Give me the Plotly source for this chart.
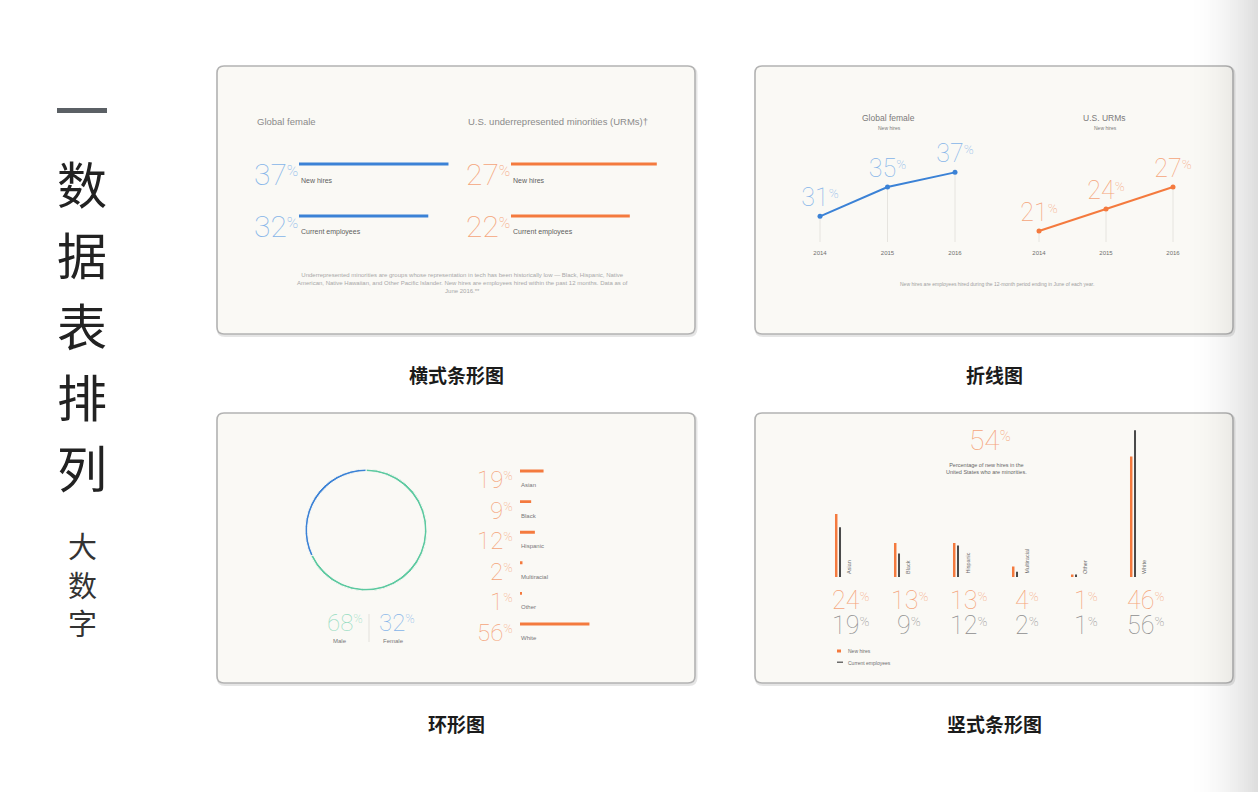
import plotly.graph_objects as go

W, H = 1258, 792

# ---------------- data ----------------
bar_labels = ["New hires", "Current employees"]
female_share = [37, 32]
urm_share = [27, 22]

years = [2014, 2015, 2016]
female_trend = [31, 35, 37]
urm_trend = [21, 24, 27]

gender_labels = ["Male", "Female"]
gender_share = [68, 32]

ethnicity = ["Asian", "Black", "Hispanic", "Multiracial", "Other", "White"]
employee_share = [19, 9, 12, 2, 1, 56]

new_hire_share = [24, 13, 13, 4, 1, 46]
current_share = [19, 9, 12, 2, 1, 56]
minority_new_hires = 54

panel_titles = ["横式条形图", "折线图", "环形图", "竖式条形图"]
side_title = ["数", "据", "表", "排", "列"]
side_sub = ["大", "数", "字"]

# ---------------- styles ----------------
BLUE, BLUE_L = "#3b82d6", "#86b5e9"
ORANGE, ORANGE_L = "#f47a3e", "#f5a57b"
GREEN, GREEN_L = "#5cc9a0", "#95dcc1"
DARK = "#4a4a4a"
GRAYNUM = "#8e8e8e"
TXT = "#5e5e5e"
PANEL_BG = "#faf9f5"
BORDER = "#b3b3b3"
SANS = "Liberation Sans, Arial, sans-serif"
THIN = "Roboto"
CJK = "Noto Sans CJK SC"


def X(px):
    return px / W


def Y(py):
    return 1 - py / H


def pct(v, size):
    return f"{v}<span style=\"font-size:{size * 0.75:.0f}px\"><sup>%</sup></span>"


fig = go.Figure()
annotations = []
shapes = []


def rounded_path(x0, y0, x1, y1, r):
    pts = [
        ("M", [(x0 + r, y0)]), ("L", [(x1 - r, y0)]), ("Q", [(x1, y0), (x1, y0 + r)]),
        ("L", [(x1, y1 - r)]), ("Q", [(x1, y1), (x1 - r, y1)]), ("L", [(x0 + r, y1)]),
        ("Q", [(x0, y1), (x0, y1 - r)]), ("L", [(x0, y0 + r)]), ("Q", [(x0, y0), (x0 + r, y0)]),
    ]
    s = ""
    for cmd, ps in pts:
        s += cmd + " " + " ".join(f"{X(a):.5f},{Y(b):.5f}" for a, b in ps) + " "
    return s + "Z"


# panels
panels = [(217, 66, 695, 334), (755, 66, 1233, 334), (217, 413, 695, 683), (755, 413, 1233, 683)]
for (x0, y0, x1, y1) in panels:
    shapes.append(dict(type="path", xref="paper", yref="paper", path=rounded_path(x0 + 1, y0 + 1.5, x1 + 1, y1 + 1.5, 7),
                       line=dict(color="rgba(0,0,0,0.10)", width=3), fillcolor="rgba(0,0,0,0)", layer="below"))
    shapes.append(dict(type="path", xref="paper", yref="paper", path=rounded_path(x0, y0, x1, y1, 7),
                       line=dict(color=BORDER, width=1.6), fillcolor=PANEL_BG, layer="below"))

# panel captions
for (x0, y0, x1, y1), t in zip(panels, panel_titles):
    annotations.append(dict(text=t, xref="paper", yref="paper", x=X((x0 + x1) / 2), y=Y(y1 + 40),
                            showarrow=False, xanchor="center", yanchor="middle",
                            font=dict(family=CJK, size=19, color="#1b1b1b", weight="bold")))

# side title
shapes.append(dict(type="rect", xref="paper", yref="paper", x0=X(57), x1=X(107), y0=Y(113), y1=Y(108),
                   fillcolor="#5b6065", line=dict(width=0)))
for i, ch in enumerate(side_title):
    annotations.append(dict(text=ch, xref="paper", yref="paper", x=X(82), y=Y(182 + 71 * i), showarrow=False,
                            xanchor="center", yanchor="middle", font=dict(family=CJK, size=50, color="#222222")))
for i, ch in enumerate(side_sub):
    annotations.append(dict(text=ch, xref="paper", yref="paper", x=X(82), y=Y(545 + 38.5 * i), showarrow=False,
                            xanchor="center", yanchor="middle", font=dict(family=CJK, size=29, color="#333333")))

# ---------------- panel 1: horizontal bars ----------------
fig.add_trace(go.Bar(x=female_share, y=bar_labels, orientation="h", marker=dict(color=BLUE, line=dict(width=0)),
                     width=0.058, xaxis="x", yaxis="y", hoverinfo="skip"))
fig.add_trace(go.Bar(x=urm_share, y=bar_labels, orientation="h", marker=dict(color=ORANGE, line=dict(width=0)),
                     width=0.058, xaxis="x2", yaxis="y2", hoverinfo="skip"))
for ax, vals, col in [("", female_share, BLUE_L), ("2", urm_share, ORANGE_L)]:
    for lab, v in zip(bar_labels, vals):
        annotations.append(dict(text=pct(v, 30), xref="x" + ax, yref="y" + ax, x=0, y=lab, showarrow=False,
                                xanchor="right", yanchor="middle", yshift=-10, xshift=1,
                                font=dict(family=THIN, size=30, color=col, weight=100)))
        annotations.append(dict(text=lab, xref="x" + ax, yref="y" + ax, x=0, y=lab, showarrow=False,
                                xanchor="left", yanchor="middle", yshift=-16,
                                font=dict(family=SANS, size=7, color=TXT)))
annotations.append(dict(text="Global female", xref="paper", yref="paper", x=X(255), y=Y(121), showarrow=False,
                        xanchor="left", yanchor="middle", font=dict(family=SANS, size=9.5, color="#8a8a8a")))
annotations.append(dict(text="U.S. underrepresented minorities (URMs)†", xref="paper", yref="paper", x=X(466),
                        y=Y(121), showarrow=False, xanchor="left", yanchor="middle",
                        font=dict(family=SANS, size=9.5, color="#8a8a8a")))
annotations.append(dict(
    text="Underrepresented minorities are groups whose representation in tech has been historically low — Black, Hispanic, Native<br>"
         "American, Native Hawaiian, and Other Pacific Islander. New hires are employees hired within the past 12 months. Data as of<br>"
         "June 2016.**",
    xref="paper", yref="paper", x=X(462), y=Y(283), showarrow=False, xanchor="center", yanchor="middle",
    align="center", font=dict(family=SANS, size=6, color="#a8a8a8")))

# ---------------- panel 2: line charts ----------------
for ax, vals, col, colL, rng in [("3", female_trend, BLUE, BLUE_L, [27.5, 41.5]),
                                  ("4", urm_trend, ORANGE, ORANGE_L, [19.5, 33.5])]:
    gx, gy = [], []
    for yr, v in zip(years, vals):
        gx += [yr, yr, None]
        gy += [v, rng[0], None]
    fig.add_trace(go.Scatter(x=gx, y=gy, mode="lines", line=dict(color="#e6e4df", width=1),
                             xaxis="x" + ax, yaxis="y" + ax, hoverinfo="skip"))
    fig.add_trace(go.Scatter(x=years, y=vals, mode="lines+markers+text", text=[pct(v, 25) for v in vals],
                             textposition="top center", textfont=dict(family=THIN, size=25, color=colL, weight=100),
                             line=dict(color=col, width=2), marker=dict(color=col, size=5),
                             xaxis="x" + ax, yaxis="y" + ax, hoverinfo="skip", cliponaxis=False))
for cx, t in [(888, "Global female"), (1104, "U.S. URMs")]:
    annotations.append(dict(text=t, xref="paper", yref="paper", x=X(cx), y=Y(118), showarrow=False,
                            xanchor="center", yanchor="middle", font=dict(family=SANS, size=8.5, color="#7a7a7a")))
    annotations.append(dict(text="New hires", xref="paper", yref="paper", x=X(cx + 1), y=Y(128), showarrow=False,
                            xanchor="center", yanchor="middle", font=dict(family=SANS, size=5, color="#7a7a7a")))
annotations.append(dict(text="New hires are employees hired during the 12-month period ending in June of each year.",
                        xref="paper", yref="paper", x=X(997), y=Y(284), showarrow=False, xanchor="center",
                        yanchor="middle", font=dict(family=SANS, size=5, color="#a0a0a0")))

# ---------------- panel 3: donut + list ----------------
fig.add_trace(go.Pie(labels=gender_labels, values=gender_share, hole=0.958, sort=False, direction="counterclockwise",
                     rotation=0, marker=dict(colors=[GREEN, BLUE], line=dict(color=PANEL_BG, width=1)),
                     textinfo="none", hoverinfo="skip", showlegend=False,
                     domain=dict(x=[X(305), X(427)], y=[Y(591), Y(469)])))
for cx, v, col in [(345, gender_share[0], GREEN_L), (397, gender_share[1], BLUE_L)]:
    annotations.append(dict(text=pct(v, 24), xref="paper", yref="paper", x=X(cx), y=Y(623), showarrow=False,
                            xanchor="center", yanchor="middle", font=dict(family=THIN, size=24, color=col, weight=100)))
for cx, lab in [(340, gender_labels[0]), (393, gender_labels[1])]:
    annotations.append(dict(text=lab, xref="paper", yref="paper", x=X(cx), y=Y(640.5), showarrow=False,
                            xanchor="center", yanchor="middle", font=dict(family=SANS, size=6, color="#777777")))
shapes.append(dict(type="line", xref="paper", yref="paper", x0=X(369), x1=X(369), y0=Y(614), y1=Y(642),
                   line=dict(color="#e3e1dc", width=1)))

fig.add_trace(go.Bar(x=employee_share, y=ethnicity, orientation="h", marker=dict(color=ORANGE, line=dict(width=0)),
                     width=0.095, xaxis="x5", yaxis="y5", hoverinfo="skip"))
for lab, v in zip(ethnicity, employee_share):
    annotations.append(dict(text=pct(v, 24), xref="x5", yref="y5", x=0, y=lab, showarrow=False, xanchor="right",
                            yanchor="middle", xshift=-5, yshift=-9,
                            font=dict(family=THIN, size=24, color=ORANGE_L, weight=100)))
    annotations.append(dict(text=lab, xref="x5", yref="y5", x=0, y=lab, showarrow=False, xanchor="left",
                            yanchor="middle", yshift=-14, xshift=-1, font=dict(family=SANS, size=6, color="#777777")))

# ---------------- panel 4: vertical bars ----------------
fig.add_trace(go.Bar(x=ethnicity, y=new_hire_share, marker=dict(color=ORANGE, line=dict(width=0)), width=0.042,
                     offset=-0.051, xaxis="x6", yaxis="y6", hoverinfo="skip"))
fig.add_trace(go.Bar(x=ethnicity, y=current_share, marker=dict(color=DARK, line=dict(width=0)), width=0.034,
                     offset=0.017, xaxis="x6", yaxis="y6", hoverinfo="skip"))
for lab, a, b in zip(ethnicity, new_hire_share, current_share):
    annotations.append(dict(text=lab, xref="x6", yref="y6", x=lab, y=0, showarrow=False, textangle=-90,
                            xanchor="center", yanchor="bottom", xshift=11, yshift=1,
                            font=dict(family=SANS, size=5.5, color="#6e6e6e")))
    annotations.append(dict(text=pct(a, 25), xref="x6", yref="y6", x=lab, y=0, showarrow=False, xanchor="center",
                            yanchor="middle", xshift=12, yshift=-23,
                            font=dict(family=THIN, size=25, color=ORANGE_L, weight=100)))
    annotations.append(dict(text=pct(b, 25), xref="x6", yref="y6", x=lab, y=0, showarrow=False, xanchor="center",
                            yanchor="middle", xshift=12, yshift=-48,
                            font=dict(family=THIN, size=25, color=GRAYNUM, weight=100)))
annotations.append(dict(text=pct(minority_new_hires, 28), xref="paper", yref="paper", x=X(990), y=Y(440),
                        showarrow=False, xanchor="center", yanchor="middle",
                        font=dict(family=THIN, size=28, color=ORANGE_L, weight=100)))
annotations.append(dict(text="Percentage of new hires in the<br>United States who are minorities.", xref="paper",
                        yref="paper", x=X(986), y=Y(468.5), showarrow=False, xanchor="center", yanchor="middle",
                        align="center", font=dict(family=SANS, size=5.5, color="#666666")))
shapes.append(dict(type="rect", xref="paper", yref="paper", x0=X(837), x1=X(841), y0=Y(652.5), y1=Y(649.5),
                   fillcolor=ORANGE, line=dict(width=0)))
shapes.append(dict(type="rect", xref="paper", yref="paper", x0=X(837), x1=X(843), y0=Y(662.8), y1=Y(661.6),
                   fillcolor=DARK, line=dict(width=0)))
for yy, t in [(651, "New hires"), (662.5, "Current employees")]:
    annotations.append(dict(text=t, xref="paper", yref="paper", x=X(846), y=Y(yy), showarrow=False,
                            xanchor="left", yanchor="middle", font=dict(family=SANS, size=5, color="#6e6e6e")))

# right edge shading
n = 34
for i in range(n):
    x0 = 1190 + i * 2
    shapes.append(dict(type="rect", xref="paper", yref="paper", x0=X(x0), x1=X(x0 + 2), y0=0, y1=1,
                       fillcolor="black", opacity=0.13 * ((i + 1) / n) ** 1.7, line=dict(width=0), layer="above"))

hidden = dict(visible=False, fixedrange=True)
cat1 = dict(type="category", categoryorder="array", categoryarray=bar_labels, range=[1.5, -0.5])
year_ax = dict(range=[2013.6, 2016.4], tickvals=years, ticktext=[str(y) for y in years], showgrid=False,
               zeroline=False, showline=False, ticks="", tickfont=dict(family=SANS, size=6, color="#6f6f6f"),
               ticklabelstandoff=6, fixedrange=True)

fig.update_layout(
    width=W, height=H, margin=dict(l=0, r=0, t=0, b=0), paper_bgcolor="white", plot_bgcolor="rgba(0,0,0,0)",
    showlegend=False, barmode="overlay",
    xaxis=dict(domain=[X(299), X(299 + 40 * 4.04)], range=[0, 40], anchor="y", **hidden),
    yaxis=dict(domain=[Y(242), Y(138)], anchor="x", **cat1, **hidden),
    xaxis2=dict(domain=[X(511), X(511 + 30 * 5.4)], range=[0, 30], anchor="y2", **hidden),
    yaxis2=dict(domain=[Y(242), Y(138)], anchor="x2", **cat1, **hidden),
    xaxis3=dict(domain=[X(820 - 0.4 * 67.5), X(955 + 0.4 * 67.5)], anchor="y3", **year_ax),
    yaxis3=dict(domain=[Y(242), Y(242 - 14 * 7.33)], range=[27.5, 41.5], anchor="x3", **hidden),
    xaxis4=dict(domain=[X(1039 - 0.4 * 67), X(1173 + 0.4 * 67)], anchor="y4", **year_ax),
    yaxis4=dict(domain=[Y(242), Y(242 - 14 * 7.33)], range=[19.5, 33.5], anchor="x4", **hidden),
    xaxis5=dict(domain=[X(520), X(520 + 60 * 1.24)], range=[0, 60], anchor="y5", **hidden),
    yaxis5=dict(domain=[Y(639.3), Y(455.7)], type="category", categoryorder="array", categoryarray=ethnicity,
                range=[5.5, -0.5], anchor="x5", **hidden),
    xaxis6=dict(domain=[X(808.5), X(1162.5)], type="category", categoryorder="array", categoryarray=ethnicity,
                range=[-0.5, 5.5], anchor="y6", **hidden),
    yaxis6=dict(domain=[Y(577), Y(577 - 60 * 2.62)], range=[0, 60], anchor="x6", **hidden),
    annotations=annotations, shapes=shapes,
)

fig.write_html("out.html")
